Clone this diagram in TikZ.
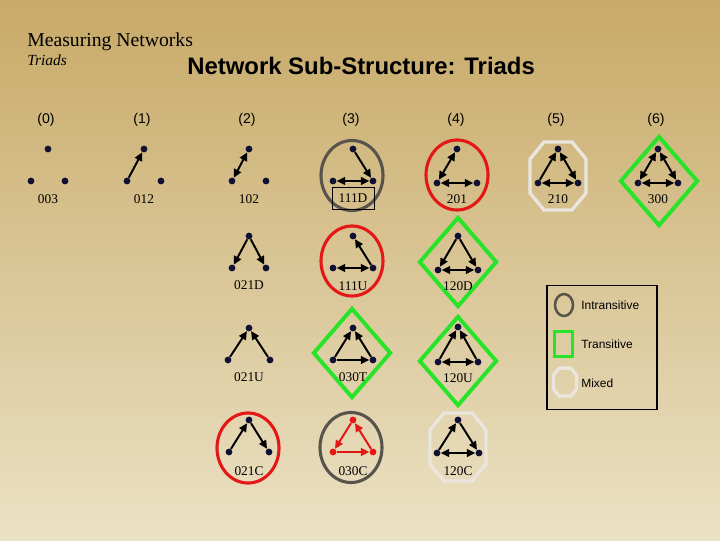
\documentclass[tikz,border=0pt]{standalone}
\usepackage{fontspec}
\setmainfont{Liberation Serif}
\setsansfont{Liberation Sans}
\usepackage{tikz}
\usetikzlibrary{positioning,arrows.meta,shapes.geometric}
\definecolor{bgtop}{RGB}{200,170,104}
\definecolor{bgmid}{RGB}{222,204,158}
\definecolor{bgbottom}{RGB}{235,225,196}
\definecolor{intrans}{RGB}{88,84,76}
\definecolor{trans}{RGB}{40,228,40}
\definecolor{mixed}{RGB}{234,230,222}
\definecolor{cyc}{RGB}{228,22,22}
\definecolor{dotblue}{RGB}{16,16,52}

\begin{document}
\begin{tikzpicture}[x=0.025cm, y=-0.025cm,
  tdot/.style={circle, fill=#1, inner sep=0pt, minimum size=0.17cm},
  tdot/.default=dotblue,
  tarr/.style={-{Triangle[length=6pt,width=5.5pt]}, line width=1.4pt, draw=#1},
  tarr/.default=black,
  tdbl/.style={{Triangle[length=6pt,width=5.5pt]}-{Triangle[length=6pt,width=5.5pt]},
    line width=1.4pt},
  tring/.style={draw=#1, ellipse, line width=2.2pt, minimum width=1.55cm,
    minimum height=1.75cm, inner sep=0pt},
  tdiam/.style={draw=trans, diamond, line width=2.8pt, minimum width=1.95cm,
    minimum height=2.25cm, inner sep=0pt},
  octring/.pic={\draw[draw=mixed, line width=2.4pt] (-14,-34) -- (14,-34) -- (28,-17)
    -- (28,17) -- (14,34) -- (-14,34) -- (-28,17) -- (-28,-17) -- cycle;},
  tlabel/.style={font=\fontsize{9.5}{11}\selectfont, inner sep=1pt},
  thead/.style={font=\sffamily\fontsize{10}{12}\selectfont},
  legtext/.style={font=\sffamily\fontsize{8.5}{10}\selectfont, anchor=west, inner sep=0pt},
]
  \shade[top color=bgtop, middle color=bgmid, bottom color=bgbottom] (0,0) rectangle (720,540);
  \useasboundingbox (0,0) rectangle (720,540);
  % ---- Titles ----
  \node[anchor=base west, inner sep=0pt, font=\fontsize{14}{16}\selectfont] (ttl) at (27,46)
    {Measuring Networks};
  \node[anchor=base west, inner sep=0pt, font=\itshape\fontsize{11}{13}\selectfont] (sub) at (27,65)
    {Triads};
  \node[anchor=base west, inner sep=0pt, font=\sffamily\bfseries\fontsize{17}{20}\selectfont]
    (main) at (187,74) {Network Sub-Structure: Triads};
  \foreach \i/\x in {0/46,1/142,2/247,3/351,4/456,5/556,6/656}
    \node[thead] (h\i) at (\x,120) {(\i)};
  % ---- Enclosures ----
  \node[tring=intrans] (e111D) at (352,175.5) {};
  \node[tring=cyc] (e201) at (457,175) {};
  \pic at (558,176) {octring};
  \node[tdiam] (e300) at (659,181) {};
  \node[tring=cyc] (e111U) at (352,261) {};
  \node[tdiam] (e120D) at (458,262) {};
  \node[tdiam] (e030T) at (352,353) {};
  \node[tdiam] (e120U) at (458,361) {};
  \node[tring=cyc] (e021C) at (248,448) {};
  \node[tring=intrans] (e030C) at (351,447.5) {};
  \pic at (458,447) {octring};
  % ---- Triads: top, left, right and code ----
  \foreach \nm/\x/\y/\w/\h/\ly/\c in {003/48/149/17/32/199/dotblue,
      012/144/149/17/32/199/dotblue, 102/249/149/17/32/199/dotblue,
      111D/353/149/20/32/198/dotblue, 201/457/149/20/34/199/dotblue,
      210/558/149/20/34/199/dotblue, 300/658/149/20/34/199/dotblue,
      021D/249/236/17/32/285/dotblue, 111U/353/236/20/32/286/dotblue,
      120D/458/236/20/34/286/dotblue, 021U/249/328/21/32/377/dotblue,
      030T/353/328/20/32/377/dotblue, 120U/458/327/20/35/378/dotblue,
      021C/249/420/20/32/471/dotblue, 030C/353/420/20/32/471/cyc,
      120C/458/420/21/33/471/dotblue}{
    \node[tdot=\c] (T\nm) at (\x,\y) {};
    \node[tdot=\c] (L\nm) at (\x-\w,\y+\h) {};
    \node[tdot=\c] (R\nm) at (\x+\w,\y+\h) {};
    \node[tlabel] (n\nm) at (\x,\ly) {\nm};
  }
  \node[draw=black, line width=0.7pt, minimum width=1.05cm, minimum height=0.55cm,
    inner sep=0pt] (b111D) at (353,198) {};
  % ---- Ties ----
  \draw[tarr] (L012) -- (T012);
  \draw[tdbl] (L102) -- (T102);
  \draw[tarr] (T111D) -- (R111D);
  \draw[tdbl] (L111D) -- (R111D);
  \draw[tdbl] (T201) -- (L201);
  \draw[tdbl] (L201) -- (R201);
  \draw[tarr] (L210) -- (T210);
  \draw[tdbl] (T210) -- (R210);
  \draw[tdbl] (L210) -- (R210);
  \draw[tdbl] (T300) -- (L300);
  \draw[tdbl] (T300) -- (R300);
  \draw[tdbl] (L300) -- (R300);
  \draw[tarr] (T021D) -- (L021D);
  \draw[tarr] (T021D) -- (R021D);
  \draw[tarr] (R111U) -- (T111U);
  \draw[tdbl] (L111U) -- (R111U);
  \draw[tarr] (T120D) -- (L120D);
  \draw[tarr] (T120D) -- (R120D);
  \draw[tdbl] (L120D) -- (R120D);
  \draw[tarr] (L021U) -- (T021U);
  \draw[tarr] (R021U) -- (T021U);
  \draw[tarr] (L030T) -- (T030T);
  \draw[tarr] (R030T) -- (T030T);
  \draw[tarr] (L030T) -- (R030T);
  \draw[tarr] (L120U) -- (T120U);
  \draw[tarr] (R120U) -- (T120U);
  \draw[tdbl] (L120U) -- (R120U);
  \draw[tarr] (L021C) -- (T021C);
  \draw[tarr] (T021C) -- (R021C);
  \draw[tarr=cyc] (T030C) -- (L030C);
  \draw[tarr=cyc] (L030C) -- (R030C);
  \draw[tarr=cyc] (R030C) -- (T030C);
  \draw[tarr] (L120C) -- (T120C);
  \draw[tarr] (T120C) -- (R120C);
  \draw[tdbl] (L120C) -- (R120C);
  % ---- Legend ----
  \node[draw=black, line width=0.8pt, minimum width=2.75cm, minimum height=3.1cm]
    (lgd) at (602,347.5) {};
  \node[draw=intrans, ellipse, line width=1.8pt, minimum width=0.45cm, minimum height=0.55cm,
    inner sep=0pt] (lgA) at (564,305) {};
  \node[draw=trans, line width=2.5pt, minimum width=0.45cm, minimum height=0.62cm,
    inner sep=0pt] (lgB) at (563.5,344) {};
  \pic[scale=0.41] at (565,382) {octring};
  \node[legtext, right=0.17cm of lgA] (tA) {Intransitive};
  \node[legtext, right=0.17cm of lgB] (tB) {Transitive};
  \node[legtext] (tC) at (581,383) {Mixed};
\end{tikzpicture}
\end{document}
